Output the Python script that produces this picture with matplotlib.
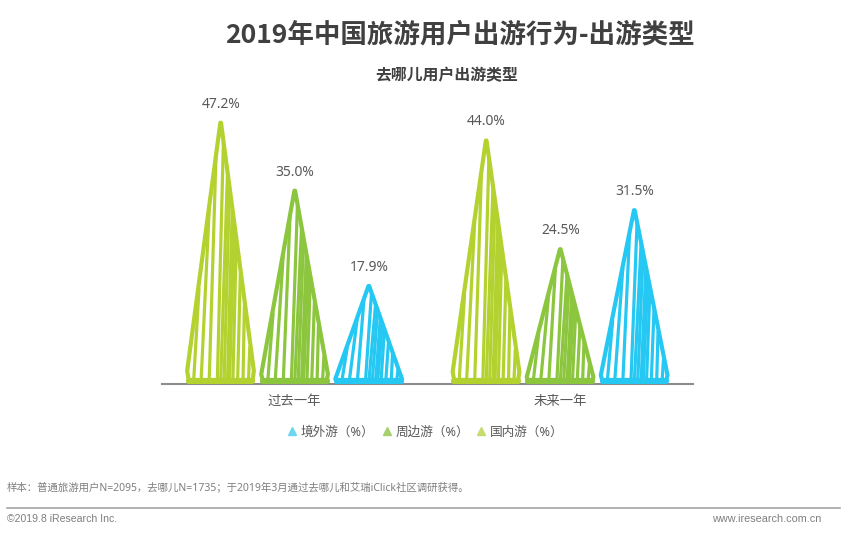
import numpy as np
import matplotlib
matplotlib.use('Agg')
import matplotlib.pyplot as plt
from matplotlib.lines import Line2D
from matplotlib.patches import Polygon

plt.rcParams['font.family'] = ['Noto Sans', 'Noto Sans CJK SC', 'DejaVu Sans']

# Data
periods = ['过去一年', '未来一年']
domestic = [47.2, 44.0]
nearby = [35.0, 24.5]
outbound = [17.9, 31.5]

series_names = ['国内游（%）', '周边游（%）', '境外游（%）']
colors = ['#B4D22F', '#8CC63E', '#25C8F2']
legend_colors = ['#C5DC6E', '#A5D26F', '#6FD6F2']

# Hatch strokes of the sketch style: start and end across the base, the end sits on the edge
strokes = [(0.10, 0.18), (0.21, 0.33), (0.33, 0.43), (0.45, 0.54), (0.50, 0.60), (0.55, 0.63),
           (0.60, 0.67), (0.63, 0.70), (0.68, 0.73), (0.75, 0.79), (0.83, 0.85), (0.91, 0.93)]

W, H = 860, 537
fig = plt.figure(figsize=(W / 100, H / 100), dpi=100)
ax = fig.add_axes([162 / W, 1 - 384 / H, 531 / W, 290 / H])
ax.set_xlim(-0.5, 1.5)
ax.set_ylim(0, 290 / 5.57)


def sketch_triangle(x, value, color):
    w = 0.255
    left, right = x - w / 2, x + w / 2
    # outline bulges a little near the foot, like the hand drawn original
    outline = [(left + 0.03 * w, 0.5), (left + 0.005 * w, 0.05 * value), (x - 0.005 * w, value - 0.3),
               (x + 0.005 * w, value - 0.3), (right - 0.01 * w, 0.05 * value), (right - 0.03 * w, 0.5)]
    ax.add_patch(Polygon(outline, closed=True, fill=False, edgecolor=color,
                         linewidth=3.0, joinstyle='round', zorder=3))
    # thick foot of the triangle
    ax.plot([left + 0.03 * w, right - 0.03 * w], [0.5, 0.5], color=color, linewidth=4.5,
            solid_capstyle='round', zorder=3)
    for b, t in strokes:
        ax.plot([left + b * w, left + t * w], [0.4, (1 - abs(2 * t - 1)) * value], color=color,
                linewidth=2.3, solid_capstyle='round', zorder=2)
    ax.annotate(f'{value:.1f}%', (x, value), xytext=(0, 17), textcoords='offset pixels',
                ha='center', va='center', fontsize=10, color='#595959')


offsets = [-0.279, 0, 0.279]
for i, period in enumerate(periods):
    values = [domestic[i], nearby[i], outbound[i]]
    for off, v, c in zip(offsets, values, colors):
        sketch_triangle(i + off, v, c)

ax.set_xticks(range(len(periods)))
ax.set_xticklabels(periods, fontsize=9.6, color='#595959')
ax.tick_params(axis='x', length=0, pad=8)
ax.set_yticks([])
for s in ['top', 'left', 'right']:
    ax.spines[s].set_visible(False)
ax.spines['bottom'].set_color('#8C8C8C')
ax.spines['bottom'].set_linewidth(1.5)

# Legend, outbound first as in the original
handles = [Line2D([], [], linestyle='none', marker='^', markersize=6, color=legend_colors[i]) for i in [2, 1, 0]]
fig.legend(handles, [series_names[i] for i in [2, 1, 0]], ncol=3, loc='center',
           bbox_to_anchor=(424 / W, 1 - 432 / H), frameon=False, fontsize=9.1,
           labelcolor='#595959', handletextpad=0.1, columnspacing=0.35, handlelength=1.2)

# Titles
fig.text(460 / W, 1 - 35 / H, '2019年中国旅游用户出游行为-出游类型', ha='center', va='center',
         fontsize=19.1, fontweight='bold', color='#404040', family=['Noto Sans CJK SC', 'DejaVu Sans'])
fig.text(447 / W, 1 - 75 / H, '去哪儿用户出游类型', ha='center', va='center',
         fontsize=11.4, fontweight='bold', color='#404040', family=['Noto Sans CJK SC', 'DejaVu Sans'])

# Footer
fig.text(7 / W, 1 - 488 / H, '样本：普通旅游用户N=2095，去哪儿N=1735；于2019年3月通过去哪儿和艾瑞iClick社区调研获得。',
         ha='left', va='center', fontsize=7.5, color='#7F7F7F')
fig.add_artist(Line2D([7 / W, 840 / W], [1 - 508 / H, 1 - 508 / H], color='#A6A6A6', linewidth=1.2))
fig.text(7 / W, 1 - 519 / H, '©2019.8 iResearch Inc.', ha='left', va='center', fontsize=7.6,
         color='#7F7F7F', family='Liberation Sans')
fig.text(821 / W, 1 - 519 / H, 'www.iresearch.com.cn', ha='right', va='center', fontsize=7.8,
         color='#7F7F7F', family='Liberation Sans')

fig.savefig('out.png', dpi=100)
